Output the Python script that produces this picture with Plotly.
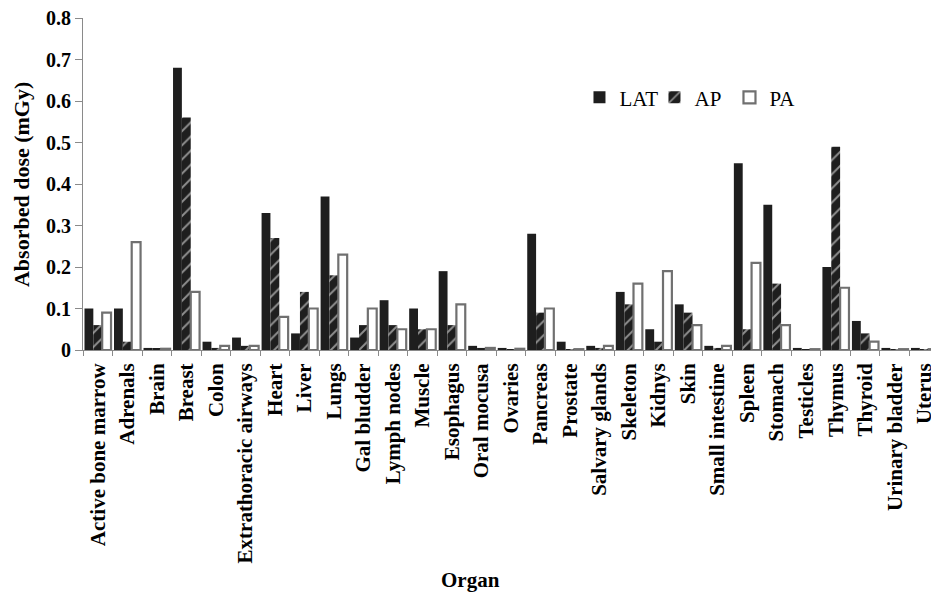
import plotly.graph_objects as go

organs = ["Active bone marrow", "Adrenals", "Brain", "Breast", "Colon",
          "Extrathoracic airways", "Heart", "Liver", "Lungs", "Gal bludder",
          "Lymph nodes", "Muscle", "Esophagus", "Oral mocusa", "Ovaries",
          "Pancreas", "Prostate", "Salvary glands", "Skeleton", "Kidnys",
          "Skin", "Small intestine", "Spleen", "Stomach", "Testicles",
          "Thymus", "Thyroid", "Urinary bladder", "Uterus"]

lat = [0.10, 0.10, 0.005, 0.68, 0.02, 0.03, 0.33, 0.04, 0.37, 0.03,
       0.12, 0.10, 0.19, 0.01, 0.005, 0.28, 0.02, 0.01, 0.14, 0.05,
       0.11, 0.01, 0.45, 0.35, 0.005, 0.20, 0.07, 0.005, 0.005]
ap = [0.06, 0.02, 0.003, 0.56, 0.005, 0.01, 0.27, 0.14, 0.18, 0.06,
      0.06, 0.05, 0.06, 0.005, 0.002, 0.09, 0.002, 0.005, 0.11, 0.02,
      0.09, 0.005, 0.05, 0.16, 0.002, 0.49, 0.04, 0.002, 0.002]
pa = [0.09, 0.26, 0.003, 0.14, 0.01, 0.01, 0.08, 0.10, 0.23, 0.10,
      0.05, 0.05, 0.11, 0.005, 0.003, 0.10, 0.002, 0.01, 0.16, 0.19,
      0.06, 0.01, 0.21, 0.06, 0.002, 0.15, 0.02, 0.002, 0.002]

y_ticks = [0, 0.1, 0.2, 0.3, 0.4, 0.5, 0.6, 0.7, 0.8]
y_labels = ["0", "0.1", "0.2", "0.3", "0.4", "0.5", "0.6", "0.7", "0.8"]

FONT = "Liberation Serif"

fig = go.Figure()
fig.add_trace(go.Bar(name="LAT", x=organs, y=lat,
                     marker=dict(color="#1e1e1e", line=dict(width=0))))
fig.add_trace(go.Bar(name="AP", x=organs, y=ap,
                     marker=dict(color="#1e1e1e", line=dict(width=0),
                                 pattern=dict(shape="/", fgcolor="white",
                                              bgcolor="#1e1e1e", size=10,
                                              solidity=0.2))))
fig.add_trace(go.Bar(name="PA", x=organs, y=pa,
                     marker=dict(color="white", line=dict(color="#707070", width=2.2))))

fig.update_layout(
    width=931, height=584,
    margin=dict(l=75, r=0, t=10, b=242),
    paper_bgcolor="white", plot_bgcolor="white",
    barmode="group", bargap=0.1, bargroupgap=0.0,
    font=dict(family=FONT, color="black"),
    legend=dict(orientation="h", x=0.58, y=0.76, xanchor="left", yanchor="middle",
                font=dict(family=FONT, size=21, color="black"),
                bgcolor="rgba(0,0,0,0)", itemwidth=30, tracegroupgap=0,
                entrywidth=30, entrywidthmode="pixels"),
    showlegend=True,
    annotations=[
        dict(text="Organ", xref="paper", yref="paper", x=0.453, y=-0.693,
             xanchor="center", yanchor="middle", showarrow=False,
             font=dict(family=FONT, size=21, weight="bold", color="black")),
        dict(text="Absorbed dose (mGy)", xref="paper", yref="paper",
             x=-0.072, y=0.498, xanchor="center", yanchor="middle",
             showarrow=False, textangle=-90,
             font=dict(family=FONT, size=22, weight="bold", color="black")),
    ],
)
fig.update_xaxes(
    type="category", range=[-0.5, 28.5], automargin=False,
    showline=True, linecolor="#8a8a8a", linewidth=1,
    ticks="outside", tickson="boundaries", ticklen=5, tickcolor="#8a8a8a",
    tickangle=-90, showgrid=False, ticklabelstandoff=4,
    tickfont=dict(family=FONT, size=21, weight="bold", color="black"),
)
fig.update_yaxes(
    range=[0, 0.8], tickvals=y_ticks, ticktext=y_labels, automargin=False,
    showline=True, linecolor="#8a8a8a", linewidth=1, ticklabeloverflow="allow",
    ticks="outside", ticklen=7, tickcolor="#8a8a8a", showgrid=False, zeroline=False,
    tickfont=dict(family=FONT, size=20, weight="bold", color="black"),
)

fig.write_html("out.html")
